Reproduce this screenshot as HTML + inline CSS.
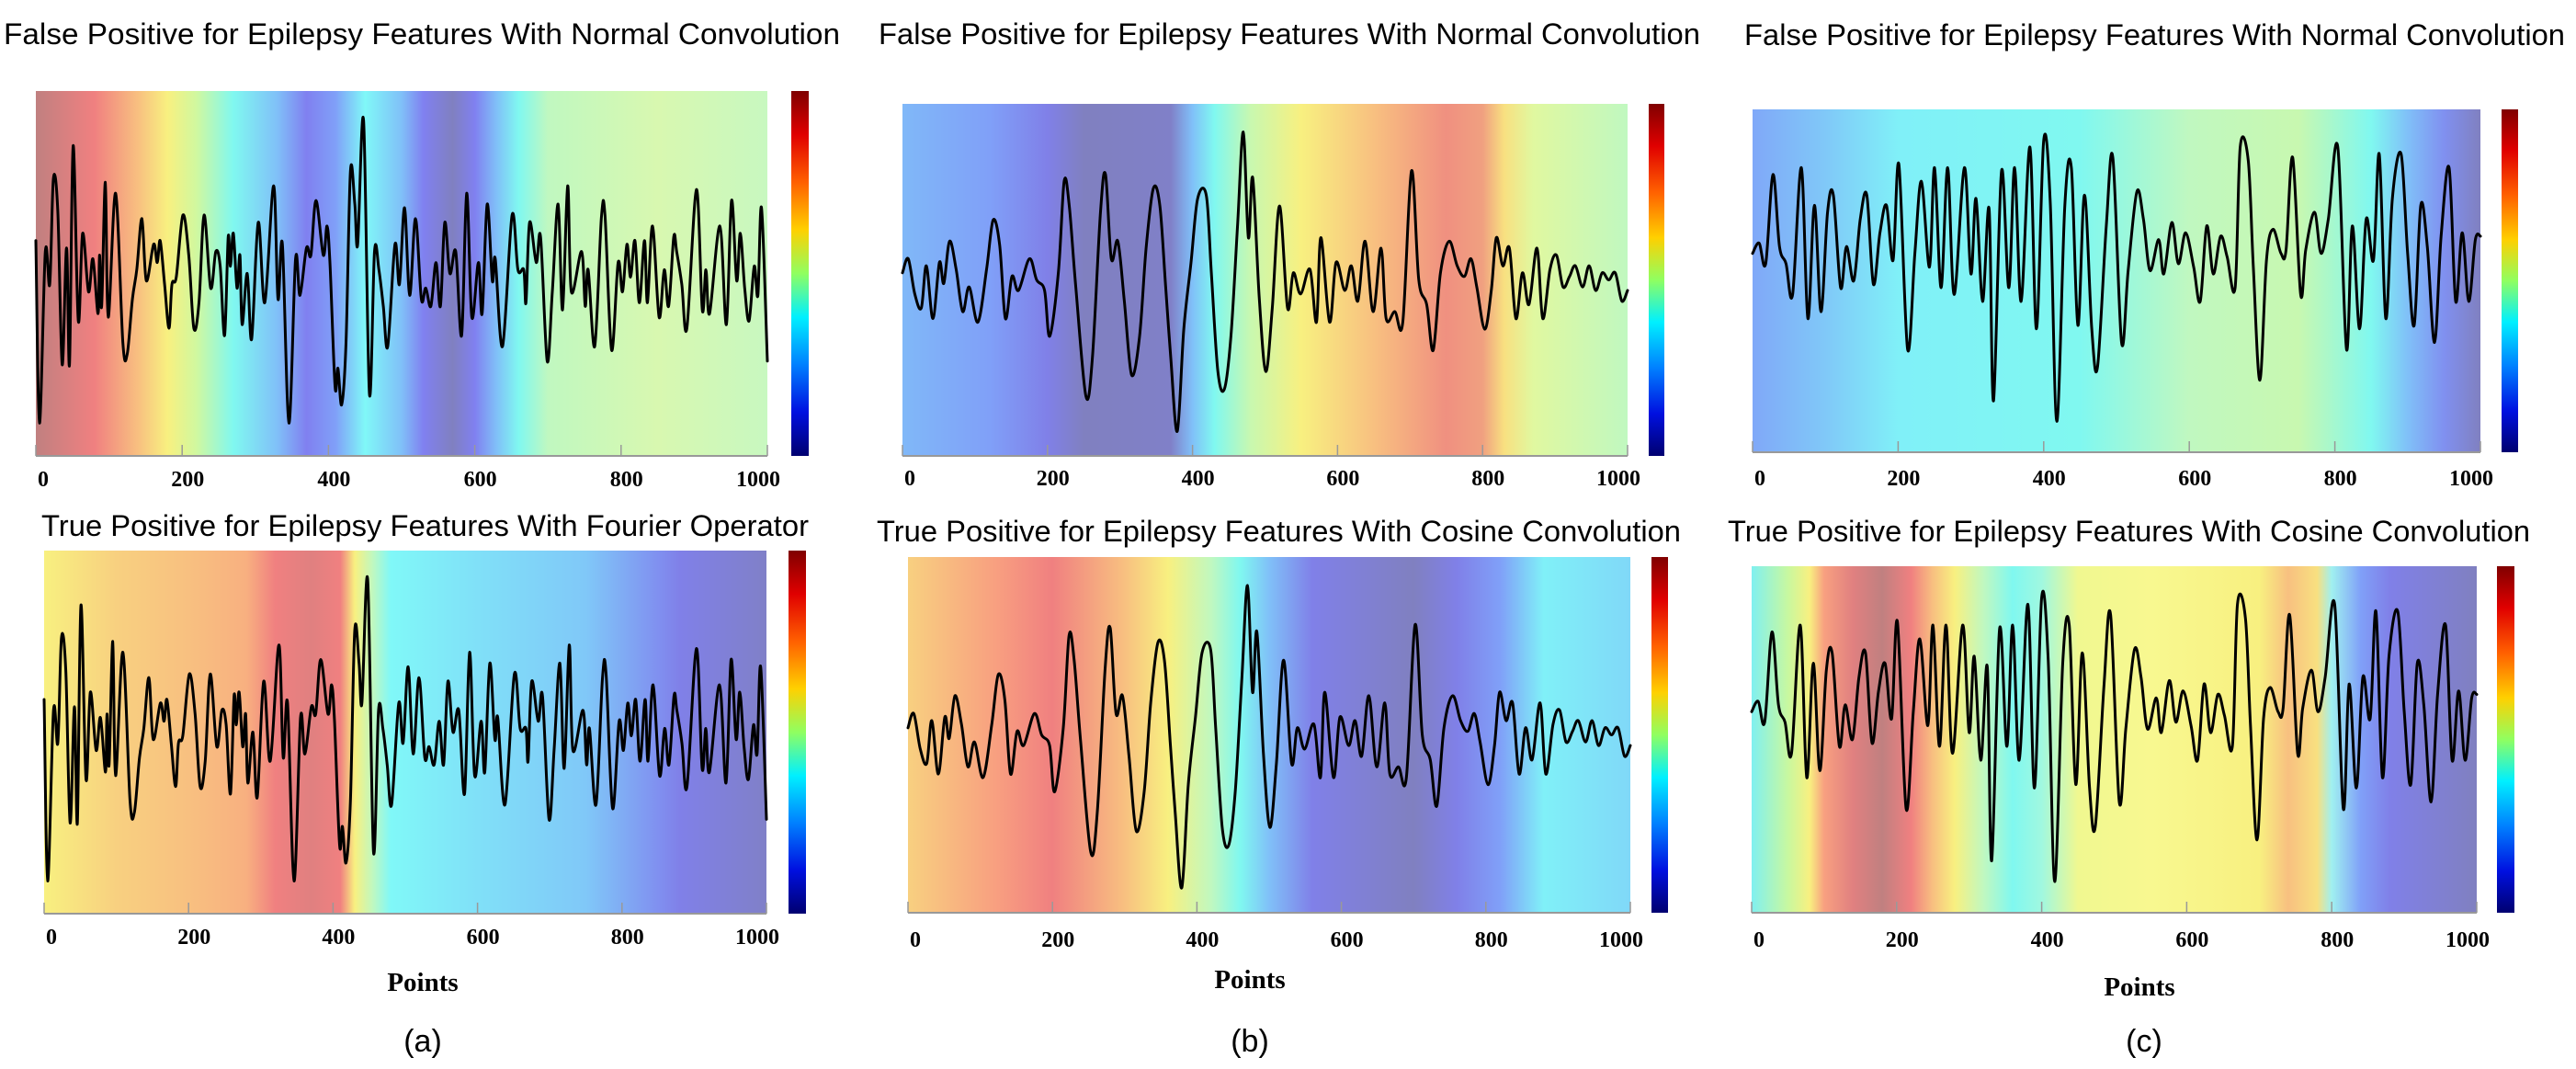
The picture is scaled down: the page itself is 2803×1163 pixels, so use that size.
<!DOCTYPE html>
<html><head><meta charset="utf-8">
<style>
html,body{margin:0;padding:0;background:#fff;}
svg{display:block;}
</style></head>
<body>
<svg id="fig" width="2803" height="1163" viewBox="0 0 2803 1163" xmlns="http://www.w3.org/2000/svg">
<defs id="defs">
<linearGradient id="jet" x1="0" y1="0" x2="0" y2="1">
<stop offset="0" stop-color="#800000"/><stop offset="0.12" stop-color="#e00000"/><stop offset="0.25" stop-color="#ff6000"/><stop offset="0.38" stop-color="#ffd000"/><stop offset="0.5" stop-color="#90ff60"/><stop offset="0.62" stop-color="#00f0ff"/><stop offset="0.75" stop-color="#0080ff"/><stop offset="0.88" stop-color="#0010e0"/><stop offset="1" stop-color="#000070"/>
</linearGradient>
</defs>
<g id="root"></g>
<text x="460" y="1078" font-family="Liberation Serif, serif" font-weight="bold" font-size="29" text-anchor="middle">Points</text>
<text x="1360" y="1075" font-family="Liberation Serif, serif" font-weight="bold" font-size="29" text-anchor="middle">Points</text>
<text x="2328" y="1083" font-family="Liberation Serif, serif" font-weight="bold" font-size="29" text-anchor="middle">Points</text>
<text x="460" y="1144" font-family="Liberation Sans Narrow, Liberation Sans, sans-serif" font-size="34" text-anchor="middle">(a)</text>
<text x="1360" y="1144" font-family="Liberation Sans Narrow, Liberation Sans, sans-serif" font-size="34" text-anchor="middle">(b)</text>
<text x="2333" y="1144" font-family="Liberation Sans Narrow, Liberation Sans, sans-serif" font-size="34" text-anchor="middle">(c)</text>
</svg>
<script>
// ---- data (x = point index, y = normalized value: 0 top, 1 bottom of plot) ----
const ticks = [0,200,400,600,800,1000];
const tickLabels = ["0","200","400","600","800","1000"];
const sigAx = [0,5,13,19,24,30,36,42,46,51,58,64,72,78,85,87,90,95,99,109,119,125,132,138,145,151,161,166,170,176,182,186,192,201,209,216,223,230,239,246,252,258,263,266,270,275,279,282,289,295,304,313,325,331,337,346,355,361,370,376,383,393,398,402,409,413,418,424,430,436,440,448,456,463,469,475,481,491,497,504,511,519,527,533,540,547,553,559,566,574,582,589,596,605,610,617,624,628,638,651,659,667,670,675,684,690,699,706,714,720,727,732,746,751,755,764,773,778,787,796,802,808,813,819,825,832,836,843,852,859,865,872,876,883,890,903,911,916,921,935,944,951,958,963,969,975,982,987,992,1000];
const sigAy = [0.41,0.91,0.44,0.53,0.24,0.33,0.75,0.43,0.75,0.15,0.63,0.39,0.55,0.46,0.61,0.45,0.59,0.25,0.62,0.28,0.69,0.72,0.57,0.49,0.35,0.52,0.42,0.47,0.41,0.53,0.65,0.53,0.51,0.34,0.45,0.65,0.58,0.34,0.54,0.44,0.48,0.67,0.40,0.48,0.39,0.54,0.45,0.64,0.50,0.68,0.36,0.58,0.26,0.57,0.42,0.91,0.46,0.56,0.43,0.45,0.30,0.45,0.37,0.47,0.81,0.76,0.86,0.69,0.22,0.31,0.42,0.08,0.83,0.44,0.49,0.59,0.70,0.42,0.53,0.32,0.56,0.35,0.57,0.54,0.59,0.47,0.59,0.36,0.50,0.44,0.67,0.28,0.62,0.47,0.61,0.31,0.52,0.46,0.70,0.34,0.49,0.49,0.58,0.36,0.47,0.40,0.74,0.55,0.31,0.60,0.26,0.55,0.44,0.59,0.49,0.70,0.35,0.34,0.71,0.47,0.55,0.42,0.51,0.41,0.58,0.41,0.58,0.37,0.62,0.49,0.59,0.40,0.44,0.53,0.65,0.27,0.60,0.49,0.61,0.37,0.64,0.30,0.52,0.39,0.54,0.63,0.48,0.56,0.32,0.74];
const sigBx = [0,8,17,26,33,42,51,57,65,74,83,92,104,116,125,134,142,151,160,175,185,196,203,215,223,230,239,253,262,273,280,288,297,306,316,327,336,346,355,363,370,379,388,398,407,419,426,435,444,453,462,470,477,483,492,501,510,520,531,539,549,562,571,577,589,598,610,619,628,638,649,660,667,679,690,702,712,723,732,742,754,765,775,784,792,803,812,819,828,837,846,855,864,875,883,893,902,911,920,928,938,947,956,965,974,983,992,1000];
const sigBy = [0.48,0.44,0.54,0.58,0.46,0.61,0.45,0.51,0.39,0.47,0.59,0.52,0.62,0.47,0.33,0.40,0.61,0.49,0.53,0.44,0.50,0.53,0.66,0.48,0.22,0.29,0.52,0.83,0.72,0.31,0.20,0.44,0.39,0.56,0.77,0.66,0.41,0.24,0.29,0.52,0.72,0.93,0.64,0.45,0.27,0.26,0.48,0.76,0.81,0.66,0.35,0.08,0.38,0.21,0.55,0.76,0.58,0.29,0.58,0.48,0.54,0.47,0.62,0.38,0.62,0.45,0.53,0.46,0.56,0.39,0.59,0.41,0.61,0.59,0.62,0.19,0.50,0.57,0.70,0.48,0.39,0.46,0.49,0.44,0.52,0.64,0.53,0.38,0.46,0.41,0.61,0.48,0.57,0.41,0.61,0.47,0.43,0.52,0.49,0.46,0.52,0.46,0.53,0.48,0.50,0.48,0.56,0.53];
const sigCx = [0,9,18,28,37,46,55,67,76,85,94,103,111,121,129,139,148,157,166,175,184,193,201,213,223,232,243,250,259,268,277,291,300,307,316,325,331,342,352,360,369,381,390,400,409,418,429,438,447,456,466,474,486,495,507,516,528,537,546,558,565,576,585,595,606,615,624,633,643,652,663,670,681,688,697,706,715,726,733,742,753,760,772,781,791,804,816,824,834,843,853,861,870,879,891,900,909,918,927,937,946,957,966,975,984,993,1000];
const sigCy = [0.42,0.39,0.45,0.19,0.40,0.45,0.54,0.17,0.61,0.28,0.59,0.30,0.25,0.52,0.40,0.50,0.32,0.25,0.51,0.36,0.28,0.44,0.16,0.70,0.42,0.21,0.46,0.17,0.52,0.17,0.54,0.17,0.48,0.26,0.56,0.29,0.85,0.18,0.52,0.17,0.56,0.11,0.64,0.09,0.27,0.91,0.28,0.17,0.63,0.25,0.64,0.75,0.34,0.14,0.68,0.47,0.24,0.32,0.47,0.38,0.48,0.33,0.45,0.36,0.46,0.56,0.34,0.48,0.37,0.43,0.52,0.11,0.15,0.46,0.79,0.44,0.35,0.42,0.41,0.14,0.54,0.41,0.30,0.42,0.32,0.11,0.70,0.34,0.64,0.32,0.44,0.13,0.61,0.26,0.13,0.42,0.63,0.28,0.40,0.68,0.37,0.17,0.56,0.36,0.56,0.38,0.37];

const signals = {A:[sigAx,sigAy], B:[sigBx,sigBy], C:[sigCx,sigCy]};
const panels = [
 {id:'a-top', title:'False Positive for Epilepsy Features With Normal Convolution', tx:4, tw:910, ty:48, x:39,y:99,w:796,h:397, cbx:861,cby:99,cbw:19,cbh:397, tky:529, sig:'A',
  bg:[[0,'#c08080'],[0.08,'#f08080'],[0.14,'#f8c080'],[0.18,'#f8f080'],[0.22,'#d0f8a0'],[0.27,'#80f8f0'],[0.33,'#80c0f8'],[0.37,'#8080f0'],[0.41,'#80a0f8'],[0.45,'#80f8f8'],[0.5,'#80c0f8'],[0.53,'#8080f0'],[0.57,'#8080c0'],[0.6,'#8080f0'],[0.63,'#80c0f8'],[0.66,'#80f8f0'],[0.7,'#c0f8c0'],[0.85,'#d8f8b0'],[1,'#c8f8c0']]},
 {id:'a-bottom', title:'True Positive for Epilepsy Features With Fourier Operator', tx:45, tw:835, ty:583, x:48,y:599,w:786,h:395, cbx:858,cby:599,cbw:19,cbh:395, tky:1027, sig:'A',
  bg:[[0,'#f8f080'],[0.1,'#f8d080'],[0.2,'#f8c080'],[0.28,'#f8b080'],[0.32,'#f08080'],[0.37,'#e08080'],[0.41,'#f08080'],[0.43,'#f8f080'],[0.455,'#c0f8c0'],[0.48,'#80f8f8'],[0.6,'#80e0f8'],[0.75,'#80c8f8'],[0.85,'#8090f0'],[0.88,'#8080e8'],[1,'#8080c8']]},
 {id:'b-top', title:'False Positive for Epilepsy Features With Normal Convolution', tx:956, tw:894, ty:48, x:982,y:113,w:789,h:383, cbx:1794,cby:113,cbw:17,cbh:383, tky:528, sig:'B',
  bg:[[0,'#80b8f8'],[0.12,'#80a0f8'],[0.2,'#8080e8'],[0.25,'#8080c0'],[0.37,'#8080c8'],[0.4,'#80c0f8'],[0.43,'#80f8f0'],[0.48,'#c8f8b0'],[0.55,'#f8f080'],[0.65,'#f8c080'],[0.75,'#f09080'],[0.8,'#f0a080'],[0.83,'#f8e080'],[0.87,'#e0f8a0'],[1,'#c0f8c0']]},
 {id:'b-bottom', title:'True Positive for Epilepsy Features With Cosine Convolution', tx:954, tw:875, ty:589, x:988,y:606,w:786,h:387, cbx:1797,cby:606,cbw:18,cbh:387, tky:1030, sig:'B',
  bg:[[0,'#f8d080'],[0.12,'#f8a080'],[0.2,'#f08080'],[0.3,'#f8c080'],[0.36,'#f8f080'],[0.42,'#c0f8c0'],[0.46,'#80f8f0'],[0.5,'#80c0f8'],[0.56,'#8080e8'],[0.7,'#8080c0'],[0.76,'#8080e8'],[0.82,'#80a0f8'],[0.88,'#80f0f8'],[1,'#80d8f8']]},
 {id:'c-top', title:'False Positive for Epilepsy Features With Normal Convolution', tx:1898, tw:893, ty:49, x:1907,y:119,w:792,h:373, cbx:2722,cby:119,cbw:18,cbh:373, tky:528, sig:'C',
  bg:[[0,'#80a8f8'],[0.1,'#80c8f8'],[0.2,'#80f0f8'],[0.45,'#80f8f0'],[0.6,'#c0f8c0'],[0.75,'#c8f8b0'],[0.85,'#80f8f0'],[0.9,'#80c0f8'],[0.95,'#8090f0'],[1,'#8080c0']]},
 {id:'c-bottom', title:'True Positive for Epilepsy Features With Cosine Convolution', tx:1880, tw:873, ty:589, x:1906,y:616,w:789,h:377, cbx:2717,cby:616,cbw:19,cbh:377, tky:1030, sig:'C',
  bg:[[0,'#80f0f0'],[0.05,'#c8f8a0'],[0.08,'#f8f080'],[0.1,'#f8a080'],[0.14,'#e08080'],[0.18,'#c08080'],[0.22,'#f08080'],[0.25,'#f8c080'],[0.28,'#f8f080'],[0.32,'#c0f8c0'],[0.36,'#80f8f0'],[0.4,'#a0f8e0'],[0.45,'#f0f890'],[0.55,'#f8f890'],[0.7,'#f8f080'],[0.74,'#f8c080'],[0.78,'#f8e080'],[0.8,'#a0f0f0'],[0.84,'#80a0f8'],[0.88,'#8080e8'],[1,'#8080c0']]}
];

const NS='http://www.w3.org/2000/svg';
const root=document.getElementById('root');
const defs=document.getElementById('defs');
function mk(tag, attrs, parent){const e=document.createElementNS(NS,tag);for(const k in attrs)e.setAttribute(k,attrs[k]);(parent||root).appendChild(e);return e;}
function smooth(pts){
  let d='M'+pts[0][0].toFixed(1)+' '+pts[0][1].toFixed(1);
  for(let i=0;i<pts.length-1;i++){
    const p0=pts[Math.max(0,i-1)],p1=pts[i],p2=pts[i+1],p3=pts[Math.min(pts.length-1,i+2)];
    const c1x=p1[0]+(p2[0]-p0[0])/6,c1y=p1[1]+(p2[1]-p0[1])/6;
    const c2x=p2[0]-(p3[0]-p1[0])/6,c2y=p2[1]-(p3[1]-p1[1])/6;
    d+='C'+c1x.toFixed(1)+' '+c1y.toFixed(1)+' '+c2x.toFixed(1)+' '+c2y.toFixed(1)+' '+p2[0].toFixed(1)+' '+p2[1].toFixed(1);
  }
  return d;
}

panels.forEach(p=>{
  const xs=v=>p.x+v/1000*p.w;
  const ys=v=>p.y+v*p.h;
  const g=mk('g',{});
  
  
  const lg=mk('linearGradient',{id:'bg-'+p.id,x1:0,y1:0,x2:1,y2:0},defs);
  p.bg.forEach(s=>mk('stop',{offset:s[0],'stop-color':s[1]},lg));
  const t=mk('text',{x:p.tx,y:p.ty,'font-family':'Liberation Sans Narrow, Liberation Sans, sans-serif','font-size':32,textLength:p.tw,lengthAdjust:'spacingAndGlyphs'},g);
  t.textContent=p.title;
  
  
  const r=mk('rect',{x:p.x,y:p.y,width:p.w,height:p.h,fill:'url(#bg-'+p.id+')'},g);
  
  
  const ax=mk('line',{x1:p.x,x2:p.x+p.w,y1:p.y+p.h,y2:p.y+p.h,stroke:'#999','stroke-width':2},g);
  
  
  ticks.forEach((tv,i)=>{
    const tl=mk('line',{x1:xs(tv),x2:xs(tv),y1:p.y+p.h,y2:p.y+p.h-12,stroke:'#999','stroke-width':1.5},g);
    
    
    const lx = i===0 ? xs(tv)+8 : (i===ticks.length-1 ? xs(tv)-10 : xs(tv)+6);
    const tt=mk('text',{x:lx,y:p.tky,'font-family':'Liberation Serif, serif','font-weight':'bold','font-size':24,'text-anchor':'middle'},g);
    tt.textContent=tickLabels[i];
    
    
  });
  const [sx,sy]=signals[p.sig];
  const pts=sx.map((v,i)=>[xs(v),ys(sy[i])]);
  const path=mk('path',{d:smooth(pts),fill:'none',stroke:'#000','stroke-width':3,'stroke-linejoin':'round','stroke-linecap':'round'},g);
  
  
  const cb=mk('rect',{x:p.cbx,y:p.cby,width:p.cbw,height:p.cbh,fill:'url(#jet)'},g);
  
  
});
</script>
</body></html>
